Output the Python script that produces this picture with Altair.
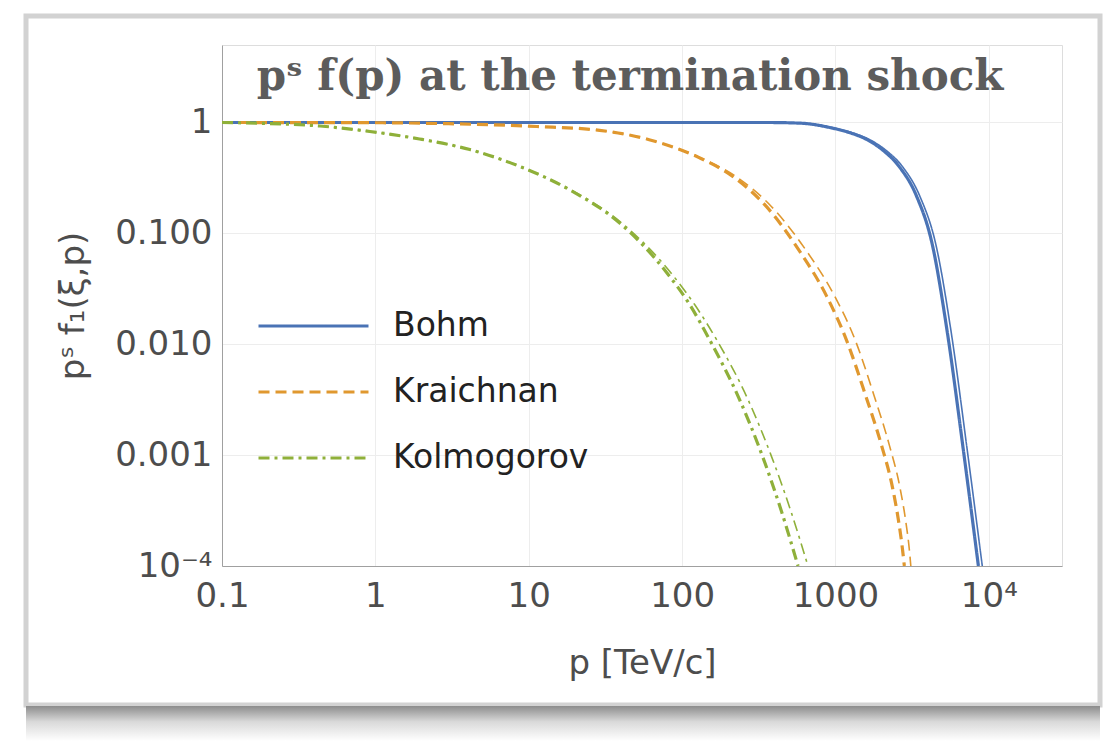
import altair as alt
import pandas as pd

# Momentum (TeV/c) and spectrum values p^s f_1 for each turbulence model.
# Each model has a main curve and a companion curve drawn thinner.
bohm_p = [0.1, 100, 354, 592, 955, 1233, 1592, 2024, 2612, 3373, 4285, 5370, 6823, 8551]
bohm_f = [1.0, 1.0, 1.0, 0.986, 0.890, 0.811, 0.705, 0.567, 0.398, 0.218, 0.0787, 0.01265, 0.00111, 1e-4]
bohm2_p = [0.1, 100, 360, 605, 984, 1276, 1656, 2115, 2743, 3542, 4521, 5692, 7232, 9064]
bohm2_f = [1.0, 1.0, 1.0, 0.986, 0.890, 0.811, 0.705, 0.567, 0.398, 0.218, 0.0787, 0.01265, 0.00111, 1e-4]

kraich_p = [0.1, 1, 3, 11.3, 29, 61, 130, 214, 354, 582, 874, 1180, 1568, 1995, 2352, 2573, 2730, 2813]
kraich_f = [1.0, 0.995, 0.975, 0.92, 0.85, 0.70, 0.48, 0.326, 0.175, 0.0695, 0.0273, 0.0109, 0.00349,
            0.00123, 5.15e-4, 2.6e-4, 1.45e-4, 1e-4]
kraich2_p = [0.1, 1, 3, 11.3, 29, 61, 132, 224, 382, 647, 986, 1345, 1780, 2245, 2630, 2865, 3025, 3100]
kraich2_f = [1.0, 0.995, 0.975, 0.92, 0.85, 0.70, 0.48, 0.326, 0.175, 0.0695, 0.0273, 0.0109, 0.00349,
             0.00123, 5.15e-4, 2.6e-4, 1.45e-4, 1e-4]

kolmo_p = [0.1, 0.2, 0.435, 0.92, 1.94, 4.13, 8.8, 18.5, 39.2, 79, 112, 151, 237, 334, 445, 570]
kolmo_f = [1.0, 0.98, 0.93, 0.83, 0.71, 0.57, 0.40, 0.247, 0.124, 0.0446, 0.0228, 0.011, 0.00317,
           0.00098, 3.1e-4, 1e-4]
kolmo2_p = [0.1, 0.2, 0.435, 0.92, 1.94, 4.13, 8.8, 18.8, 40.4, 83.9, 120.7, 167.8, 269, 382, 513, 662]
kolmo2_f = [1.0, 0.98, 0.93, 0.83, 0.71, 0.57, 0.40, 0.247, 0.124, 0.0446, 0.0228, 0.011, 0.00317,
            0.00098, 3.1e-4, 1e-4]

models = ["Bohm", "Kraichnan", "Kolmogorov"]
model_colors = ["#4a73b5", "#e0982f", "#8fb03a"]
model_dashes = [[1, 0], [11, 6], [11, 5, 3, 5]]

x_ticks = [0.1, 1, 10, 100, 1000, 10000]
y_ticks = [1e-4, 1e-3, 1e-2, 1e-1, 1]

series = [
    ("Bohm", "main", bohm_p, bohm_f),
    ("Bohm", "companion", bohm2_p, bohm2_f),
    ("Kraichnan", "main", kraich_p, kraich_f),
    ("Kraichnan", "companion", kraich2_p, kraich2_f),
    ("Kolmogorov", "main", kolmo_p, kolmo_f),
    ("Kolmogorov", "companion", kolmo2_p, kolmo2_f),
]
rows = []
for model, variant, ps, fs in series:
    for i, (p, f) in enumerate(zip(ps, fs)):
        rows.append({"model": model, "variant": variant, "p": p, "f": f, "order": i})
df = pd.DataFrame(rows)

label_font = "DejaVu Sans"
text_grey = "#4d4d4d"

x_axis = alt.Axis(
    values=x_ticks,
    labelExpr="datum.value >= 5000 ? '10\u2074' : datum.value >= 500 ? '1000' : datum.value >= 50 ? '100' : datum.value >= 5 ? '10' : datum.value >= 0.5 ? '1' : '0.1'",
    title="p [TeV/c]",
    titleFont=label_font,
    titleFontSize=34,
    titleFontWeight="normal",
    titleColor=text_grey,
    titlePadding=33,
    labelFont=label_font,
    labelFontSize=34,
    labelColor=text_grey,
    labelPadding=13,
    labelFlush=False,
    labelOverlap=False,
    ticks=False,
    domainColor="#a0a0a0",
    gridColor="#ededed",
)
y_axis = alt.Axis(
    values=y_ticks,
    labelExpr="datum.value >= 0.5 ? '1' : datum.value >= 0.05 ? '0.100' : datum.value >= 0.005 ? '0.010' : datum.value >= 0.0005 ? '0.001' : '10\u207b\u2074'",
    title="p\u02e2 f\u2081(\u03be,p)",
    titleFont=label_font,
    titleFontSize=34,
    titleFontWeight="normal",
    titleColor=text_grey,
    titlePadding=24,
    labelFont=label_font,
    labelFontSize=34,
    labelColor=text_grey,
    labelPadding=10,
    labelFlush=False,
    labelOverlap=False,
    ticks=False,
    domainColor="#a0a0a0",
    gridColor="#ededed",
)

curves = (
    alt.Chart(df)
    .mark_line(interpolate="monotone", clip=True)
    .encode(
        x=alt.X("p:Q", scale=alt.Scale(type="log", domain=[0.1, 30000], nice=False), axis=x_axis),
        y=alt.Y("f:Q", scale=alt.Scale(type="log", domain=[1e-4, 5], nice=False), axis=y_axis),
        color=alt.Color(
            "model:N",
            scale=alt.Scale(domain=models, range=model_colors),
            legend=alt.Legend(
                title=None,
                orient="none",
                legendX=35,
                legendY=261,
                symbolType="stroke",
                symbolSize=12100,
                symbolStrokeWidth=3,
                clipHeight=40,
                labelFont=label_font,
                labelFontSize=33,
                labelColor="#222222",
                labelOffset=23,
                labelLimit=0,
                rowPadding=26,
            ),
        ),
        strokeDash=alt.StrokeDash("model:N", scale=alt.Scale(domain=models, range=model_dashes), legend=None),
        strokeWidth=alt.StrokeWidth(
            "variant:N", scale=alt.Scale(domain=["main", "companion"], range=[3.2, 1.6]), legend=None
        ),
        order="order:Q",
    )
)

# Card behind the figure: a soft grey edge and a shadow along the bottom.
card_src = pd.DataFrame({"k": [0]})
card = alt.Chart(card_src).mark_rect(filled=False, stroke="#d2d2d2", strokeWidth=5).encode(
    x=alt.value(-196), x2=alt.value(878), y=alt.value(-29), y2=alt.value(660)
)
shadow = alt.Chart(card_src).mark_rect(
    color=alt.Gradient(
        gradient="linear",
        x1=0, y1=0, x2=0, y2=1,
        stops=[
            alt.GradientStop(offset=0, color="#8c8c8c"),
            alt.GradientStop(offset=0.45, color="#d9d9d9"),
            alt.GradientStop(offset=1, color="#ffffff"),
        ],
    )
).encode(x=alt.value(-196), x2=alt.value(878), y=alt.value(661), y2=alt.value(696))

chart = (
    alt.layer(card, shadow, curves)
    .properties(
        width=840,
        height=521,
        padding={"left": 222, "top": 45, "right": 47, "bottom": 175},
        autosize="none",
        title=alt.TitleParams(
            text="p\u02e2 f(p) at the termination shock",
            font="DejaVu Serif",
            fontSize=42,
            fontWeight="bold",
            color="#5c5c5c",
            anchor="middle",
            frame="group",
            dx=-12,
            dy=89,
        ),
    )
    .configure_view(stroke="#a0a0a0", strokeWidth=1)
    .configure(background="white")
)

chart.save("out.html", embed_options={"renderer": "svg", "actions": False})
